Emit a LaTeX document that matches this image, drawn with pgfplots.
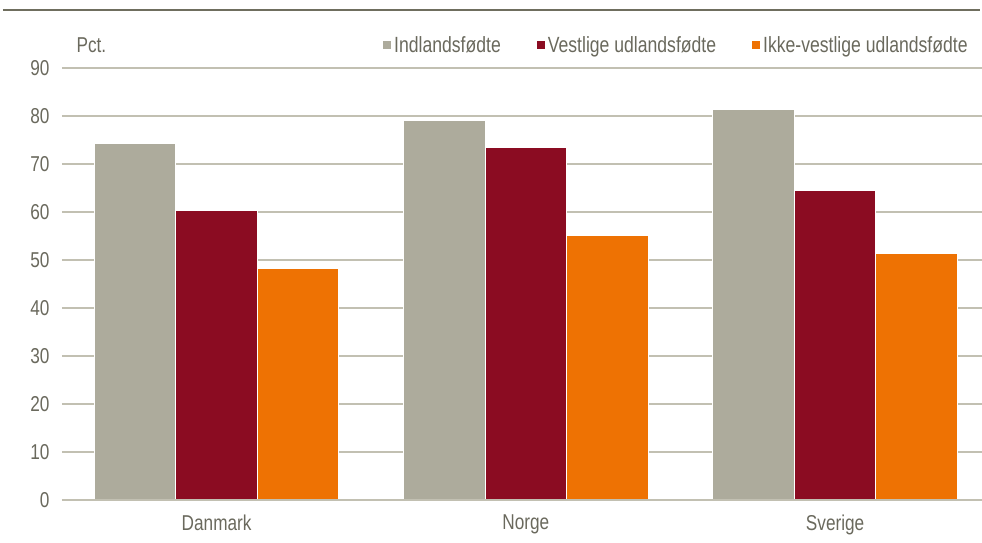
\documentclass[border=0pt]{standalone}
\usepackage{fontspec}
\setmainfont{Liberation Sans}[FakeStretch=0.8]
\usepackage{pgfplots}
\pgfplotsset{compat=1.18}
\definecolor{indl}{HTML}{ADAB9C}
\definecolor{vest}{HTML}{8B0C22}
\definecolor{ikke}{HTML}{EE7203}
\definecolor{gridc}{HTML}{C2C0B2}
\definecolor{txt}{HTML}{6A695D}
\definecolor{rule}{HTML}{6F6E5E}

\begin{document}
\begin{tikzpicture}
\useasboundingbox (-62pt,-42pt) rectangle (920pt,500pt);
\draw[rule, line width=2.4pt] (-59pt,490pt) -- (918pt,490pt);
\begin{axis}[
    scale only axis,
    width=920pt, height=432pt,
    ybar=0pt,
    bar width=81.5pt,
    xmin=-0.5, xmax=2.475,
    ymin=0, ymax=90,
    xtick=data,
    xticklabels={Danmark,Norge,Sverige},
    ytick={0,10,...,90},
    major tick length=0pt,
    axis line style={draw=none},
    ymajorgrids=true,
    grid style={gridc, line width=1.3pt},
    tick label style={font=\fontsize{21.5}{24}\selectfont, text=txt},
    yticklabel style={xshift=-9pt},
    xticklabel style={yshift=-11pt},
    /pgf/number format/assume math mode=true,
    legend style={at={(rel axis cs:0.99,1.053)}, anchor=east, draw=none, fill=none,
        font=\fontsize{22}{24}\selectfont, text=txt, legend columns=-1,
        /tikz/every odd column/.append style={column sep=0pt},
        /tikz/every even column/.append style={column sep=33pt}},
    legend image code/.code={\fill[#1] (0pt,-4.5pt) rectangle (9pt,4.5pt);},
    clip=false,
]
\addplot[fill=indl, draw=white, line width=1pt] coordinates {(0,74.3) (1,79.0) (2,81.3)};
\addplot[fill=vest, draw=white, line width=1pt] coordinates {(0,60.3) (1,73.5) (2,64.4)};
\addplot[fill=ikke, draw=white, line width=1pt] coordinates {(0,48.2) (1,55.2) (2,51.3)};
\legend{Indlandsfødte,Vestlige udlandsfødte,Ikke-vestlige udlandsfødte}
\draw[gridc, line width=1.6pt] (axis cs:-0.5,0) -- (axis cs:2.475,0);
\node[anchor=west, text=txt, font=\fontsize{21.5}{24}\selectfont] at (rel axis cs:0.012,1.053) {Pct.};
\end{axis}
\end{tikzpicture}
\end{document}
